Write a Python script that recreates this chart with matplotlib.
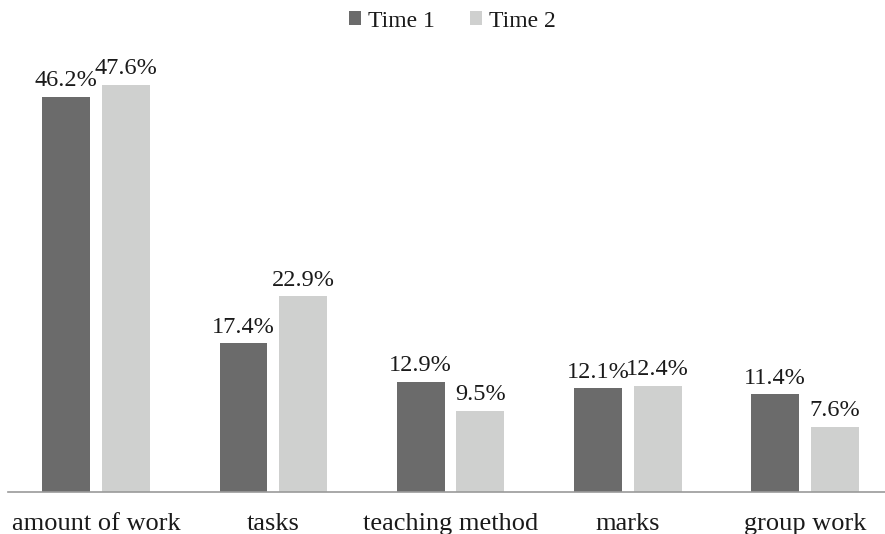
import matplotlib
matplotlib.use("Agg")
import matplotlib.pyplot as plt
import numpy as np

categories = ["amount of work", "tasks", "teaching method", "marks", "group work"]
time1 = [46.2, 17.4, 12.9, 12.1, 11.4]
time2 = [47.6, 22.9, 9.5, 12.4, 7.6]
series_names = ["Time 1", "Time 2"]
colors = ["#6b6b6b", "#cfd0cf"]

plt.rcParams["font.family"] = ["Liberation Serif", "DejaVu Serif"]

fig = plt.figure(figsize=(8.85, 5.34), dpi=100)
ax = fig.add_axes([8 / 885, 1 - 492 / 534, 877 / 885, 492 / 534])

x = np.arange(len(categories))
width = 0.27
offset = 0.168

bars1 = ax.bar(x - offset, time1, width, color=colors[0], label=series_names[0])
bars2 = ax.bar(x + offset, time2, width, color=colors[1], label=series_names[1])

for bars, vals in ((bars1, time1), (bars2, time2)):
    for b, v in zip(bars, vals):
        ax.annotate(f"{v:.1f}%", (b.get_x() + b.get_width() / 2, v),
                    xytext=(0, 4), textcoords="offset points",
                    ha="center", va="bottom", fontsize=17.5, color="#1a1a1a")

ax.set_xlim(-0.4965, 4.451)
ax.set_ylim(0, 57.5)
ax.set_xticks(x)
ax.set_xticklabels(categories, fontsize=19, color="#1a1a1a")
ax.tick_params(axis="x", length=0, pad=15)
ax.set_yticks([])
for side in ("top", "right", "left"):
    ax.spines[side].set_visible(False)
ax.spines["bottom"].set_color("#9a9a9a")
ax.spines["bottom"].set_linewidth(1.2)

fig.legend(loc="upper center", bbox_to_anchor=(0.511, 1.02), ncol=2, frameon=False,
           fontsize=17, handlelength=0.5, handleheight=0.5, handletextpad=0.3,
           columnspacing=1.5, labelcolor="#1a1a1a")

fig.savefig("out.png", dpi=100)
